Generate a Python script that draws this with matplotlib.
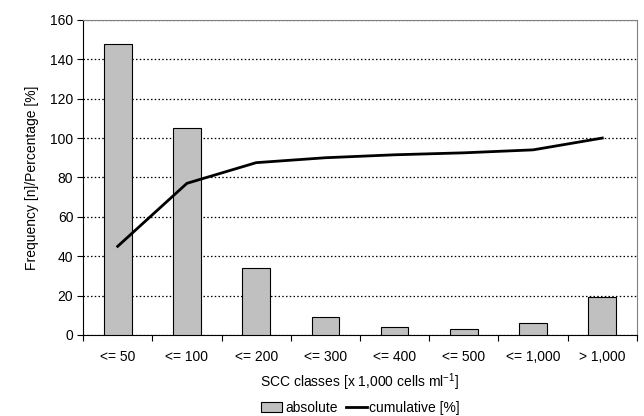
import numpy as np
import matplotlib
matplotlib.use("Agg")
import matplotlib.pyplot as plt
from matplotlib.patches import Patch
from matplotlib.lines import Line2D

plt.rcParams['font.family'] = ['Liberation Sans', 'DejaVu Sans']

classes = ["<= 50", "<= 100", "<= 200", "<= 300", "<= 400", "<= 500", "<= 1,000", "> 1,000"]
absolute = [148, 105, 34, 9, 4, 3, 6, 19]
cumulative = [45, 77, 87.5, 90, 91.5, 92.5, 94, 100]

fs = 10

fig = plt.figure(figsize=(6.44, 4.16), dpi=100)
ax = fig.add_axes([0.129, 0.195, 0.860, 0.757])

x = np.arange(len(classes))
ax.bar(x, absolute, width=0.4, color="#c0c0c0", edgecolor="black", linewidth=0.8, zorder=3)
ax.plot(x, cumulative, color="black", linewidth=2, zorder=4)

ax.set_xlim(-0.5, len(classes) - 0.5)
ax.set_ylim(0, 160)
ax.set_yticks(range(0, 161, 20))
ax.set_xticks(np.arange(-0.5, len(classes), 1))
ax.set_xticklabels([])
ax.set_xticks(x, minor=True)
ax.set_xticklabels(classes, minor=True)
ax.tick_params(axis='x', which='minor', length=0, pad=11, labelsize=fs)
ax.tick_params(axis='x', which='major', length=4, direction='out', width=0.8)
ax.tick_params(axis='y', length=4, direction='out', labelsize=fs, width=0.8, pad=3)

ax.yaxis.grid(True, linestyle=(0, (1.2, 1.8)), color="black", linewidth=0.9, zorder=0)
ax.spines['top'].set_color("#808080")
ax.spines['right'].set_color("#808080")
ax.spines['left'].set_linewidth(0.8)
ax.spines['bottom'].set_linewidth(0.8)

ax.set_ylabel("Frequency [n]/Percentage [%]", fontsize=fs, labelpad=8)
ax.set_xlabel("SCC classes [x 1,000 cells ml$^{\\mathregular{-1}}$]", fontsize=fs, labelpad=5)

handles = [Patch(facecolor="#c0c0c0", edgecolor="black", linewidth=0.8),
           Line2D([0], [0], color="black", linewidth=2)]
fig.legend(handles, ["absolute", "cumulative [%]"], loc="center", bbox_to_anchor=(0.56, 0.02),
           ncol=2, frameon=False, fontsize=fs, handlelength=1.5, handletextpad=0.2,
           columnspacing=0.6, borderaxespad=0)

fig.savefig("out.png", dpi=100)
